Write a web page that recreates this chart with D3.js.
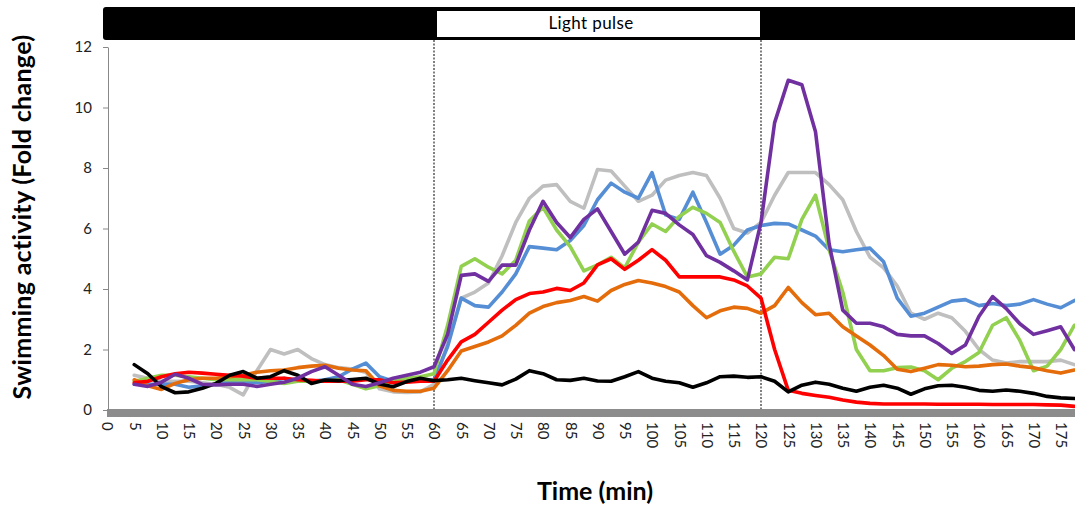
<!DOCTYPE html>
<html><head><meta charset="utf-8">
<script src="https://cdn.jsdelivr.net/npm/d3@7"></script>
<style>body{margin:0;background:#fff}svg{display:block}</style>
</head><body>
<svg id="chart" width="1075" height="506"></svg>
<script>
const times = [5,7.5,10,12.5,15,17.5,20,22.5,25,27.5,30,32.5,35,37.5,40,42.5,45,47.5,50,52.5,55,57.5,60,62.5,65,67.5,70,72.5,75,77.5,80,82.5,85,87.5,90,92.5,95,97.5,100,102.5,105,107.5,110,112.5,115,117.5,120,122.5,125,127.5,130,132.5,135,137.5,140,142.5,145,147.5,150,152.5,155,157.5,160,162.5,165,167.5,170,172.5,175,177.5];

const blackSeries = [1.5,1.2,0.77,0.57,0.6,0.72,0.88,1.15,1.27,1.05,1.1,1.3,1.15,0.88,0.99,0.97,1.01,1.05,0.86,0.77,0.94,1.05,0.97,1.0,1.05,0.97,0.9,0.83,1.02,1.3,1.2,1.0,0.98,1.05,0.96,0.95,1.1,1.27,1.05,0.95,0.9,0.75,0.9,1.1,1.12,1.08,1.1,0.95,0.6,0.82,0.92,0.85,0.72,0.62,0.75,0.82,0.72,0.52,0.7,0.8,0.82,0.75,0.65,0.62,0.66,0.62,0.55,0.45,0.4,0.38];
const redSeries = [0.9,0.95,1.1,1.2,1.25,1.22,1.18,1.15,1.12,1.05,1.05,1.05,1.0,0.98,0.95,0.95,0.95,1.0,1.0,0.9,0.92,0.95,0.95,1.65,2.25,2.5,2.9,3.3,3.65,3.85,3.9,4.02,3.95,4.2,4.8,5.0,4.65,4.95,5.3,4.95,4.4,4.4,4.4,4.4,4.3,4.1,3.7,2.0,0.65,0.55,0.48,0.42,0.33,0.26,0.22,0.2,0.2,0.2,0.2,0.19,0.19,0.19,0.19,0.18,0.18,0.18,0.18,0.17,0.16,0.12];
const orangeSeries = [1.0,0.8,0.68,0.88,1.0,1.05,1.05,1.1,1.15,1.25,1.3,1.32,1.4,1.45,1.48,1.38,1.32,1.3,0.8,0.65,0.62,0.62,0.72,1.3,1.95,2.1,2.25,2.45,2.8,3.2,3.42,3.55,3.62,3.75,3.6,3.95,4.15,4.28,4.2,4.08,3.9,3.45,3.05,3.28,3.4,3.36,3.2,3.45,4.05,3.55,3.15,3.2,2.75,2.45,2.15,1.8,1.35,1.27,1.38,1.5,1.48,1.43,1.45,1.5,1.52,1.45,1.4,1.3,1.22,1.32];
const greenSeries = [0.95,1.05,1.15,1.15,1.1,1.05,1.0,1.0,1.0,1.0,0.95,0.88,0.95,0.95,0.95,1.0,0.85,0.7,0.8,0.95,1.05,1.1,1.2,2.8,4.75,5.0,4.72,4.5,4.95,6.25,6.7,5.95,5.4,4.6,4.8,5.05,4.7,5.55,6.15,5.9,6.4,6.7,6.5,6.2,5.25,4.4,4.5,5.05,5.0,6.3,7.1,5.3,3.9,2.0,1.3,1.3,1.4,1.42,1.3,1.0,1.38,1.6,1.9,2.8,3.05,2.3,1.3,1.45,2.0,2.8];
const blueSeries = [0.85,0.85,0.85,0.85,0.75,0.8,0.85,0.95,0.95,0.9,0.95,1.05,0.95,0.95,1.0,1.1,1.35,1.55,1.1,0.95,0.95,0.95,1.0,2.1,3.7,3.45,3.4,3.9,4.5,5.4,5.35,5.3,5.6,6.1,6.95,7.5,7.2,7.0,7.85,6.45,6.3,7.2,6.2,5.15,5.45,5.95,6.1,6.17,6.15,5.95,5.75,5.3,5.23,5.3,5.35,4.9,3.7,3.1,3.2,3.4,3.6,3.65,3.45,3.52,3.45,3.5,3.65,3.5,3.38,3.62];
const graySeries = [1.15,1.05,0.95,0.95,0.95,0.9,0.85,0.75,0.5,1.3,2.0,1.85,2.0,1.7,1.5,1.4,1.35,1.25,0.7,0.6,0.58,0.6,0.85,2.2,3.7,3.9,4.2,5.1,6.2,7.0,7.4,7.45,6.9,6.67,7.95,7.9,7.4,6.9,7.1,7.6,7.75,7.85,7.75,7.0,6.0,5.85,6.2,7.1,7.85,7.85,7.85,7.45,6.95,5.9,5.05,4.7,4.1,3.2,3.0,3.2,3.05,2.6,2.0,1.65,1.55,1.6,1.6,1.6,1.65,1.5];
const purpleSeries = [0.85,0.78,0.92,1.18,1.05,0.85,0.83,0.85,0.85,0.78,0.85,0.92,1.05,1.27,1.43,1.15,0.85,0.78,0.9,1.05,1.15,1.25,1.43,2.5,4.45,4.5,4.25,4.79,4.79,5.95,6.9,6.2,5.7,6.3,6.65,5.9,5.15,5.55,6.6,6.5,6.12,5.8,5.1,4.88,4.6,4.3,6.2,9.5,10.9,10.75,9.2,5.5,3.3,2.87,2.87,2.75,2.5,2.45,2.45,2.2,1.87,2.15,3.1,3.75,3.35,2.85,2.5,2.62,2.75,2.0];

const seriesOrder = [graySeries, blueSeries, greenSeries, orangeSeries, redSeries, blackSeries, purpleSeries];
const seriesColors = ["#bfbfbf", "#558ed5", "#92d050", "#e46c0a", "#ff0000", "#000000", "#7030a0"];

const xTickValues = [0,5,10,15,20,25,30,35,40,45,50,55,60,65,70,75,80,85,90,95,100,105,110,115,120,125,130,135,140,145,150,155,160,165,170,175];
const yTickValues = [0,2,4,6,8,10,12];
const lightStart = 60, lightEnd = 120;
const pulseLabel = "Light pulse";
const xTitle = "Time (min)";
const yTitle = "Swimming activity (Fold change)";

const FONT = "Lato, 'Liberation Sans', sans-serif";
const svg = d3.select("#chart");
const x = d3.scaleLinear().domain([0, 180]).range([107, 1088]);
const y = d3.scaleLinear().domain([0, 12]).range([410, 47]);

// top bar
svg.append("rect").attr("x", 103).attr("y", 7).attr("width", 1000).attr("height", 33)
  .attr("rx", 3).attr("fill", "#000");
svg.append("rect").attr("x", x(lightStart) + 3).attr("y", 11)
  .attr("width", x(lightEnd) - x(lightStart) - 4).attr("height", 26).attr("fill", "#fff");
svg.append("text").attr("x", 591).attr("y", 29).attr("text-anchor", "middle")
  .style("font-family", FONT).style("font-size", "17px").style("letter-spacing", "0.4px")
  .attr("fill", "#000").text(pulseLabel);

// x band
svg.append("rect").attr("x", 107).attr("y", 409).attr("width", 1075 - 107).attr("height", 8)
  .attr("fill", "#8c8c8c");

// dashed lines
[lightStart, lightEnd].forEach(t => {
  svg.append("line").attr("x1", x(t)).attr("x2", x(t)).attr("y1", 40).attr("y2", 409)
    .attr("stroke", "#000").attr("stroke-width", 1).attr("stroke-dasharray", "2,1.5");
});

// y axis
const yAxis = svg.append("g").attr("transform", "translate(108,0)")
  .call(d3.axisLeft(y).tickValues(yTickValues).tickSize(5).tickSizeOuter(0).tickPadding(11));
yAxis.select(".domain").attr("stroke", "#888");
yAxis.selectAll(".tick line").attr("stroke", "#888");
yAxis.selectAll("text").style("font-family", FONT).style("font-size", "15px").attr("fill", "#222");

// x axis labels
const xAxis = svg.append("g").attr("transform", "translate(0,409)")
  .call(d3.axisBottom(x).tickValues(xTickValues).tickSize(0).tickFormat(d3.format("d")));
xAxis.select(".domain").remove();
xAxis.selectAll("text")
  .attr("transform", "rotate(90)").attr("x", 13).attr("y", 0).attr("dy", "0.35em")
  .style("text-anchor", "start").style("font-family", FONT).style("font-size", "15px").attr("fill", "#222");

// lines
const line = d3.line().x((d, i) => x(times[i])).y(d => y(d));
seriesOrder.forEach((s, k) => {
  svg.append("path").datum(s).attr("d", line).attr("fill", "none")
    .attr("stroke", seriesColors[k]).attr("stroke-width", 3.6)
    .attr("stroke-linejoin", "round").attr("stroke-linecap", "round");
});

// titles
svg.append("text").attr("x", 595).attr("y", 500).attr("text-anchor", "middle")
  .style("font-family", FONT).style("font-size", "25px").style("font-weight", "bold").text(xTitle);
svg.append("text").attr("transform", "translate(31,217) rotate(-90)").attr("text-anchor", "middle")
  .style("font-family", FONT).style("font-size", "25px").style("font-weight", "bold")
  .style("letter-spacing", "0.3px").text(yTitle);
</script>
</body></html>
